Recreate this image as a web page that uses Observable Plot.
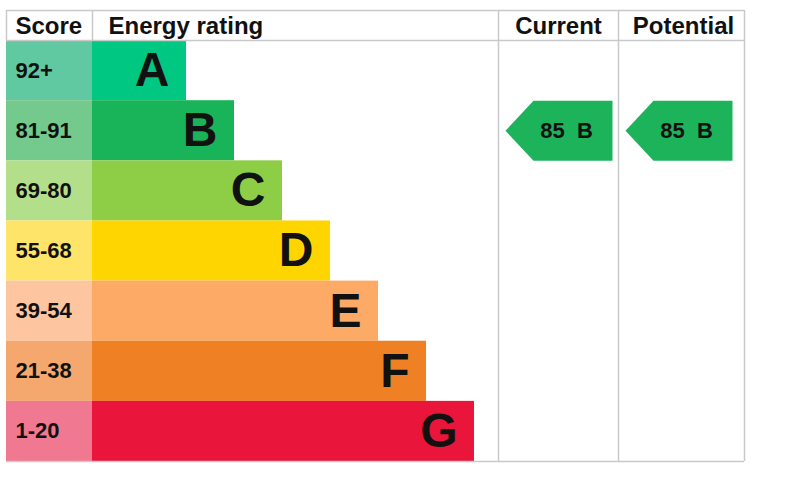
<!DOCTYPE html>
<html>
<head>
<meta charset="utf-8">
<script src="https://cdn.jsdelivr.net/npm/d3@7"></script>
<script src="https://cdn.jsdelivr.net/npm/@observablehq/plot@0.6"></script>
<style>
  html, body { margin: 0; padding: 0; background: #fff; }
  #chart { width: 800px; height: 486px; }
</style>
</head>
<body>
<div id="chart"></div>
<script>
// ---- data ----
const ratings = ["A", "B", "C", "D", "E", "F", "G"];
const scoreRanges = ["92+", "81-91", "69-80", "55-68", "39-54", "21-38", "1-20"];
const barLengths = [94, 142, 190, 238, 286, 334, 382];
const barColors = ["#00c781", "#19b459", "#8dce46", "#ffd500", "#fcaa65", "#ef8023", "#e9153b"];
const scoreColors = ["#60c9a1", "#74c98c", "#b4df8a", "#ffe46a", "#fdc6a0", "#f4a86e", "#f17891"];
const headers = ["Score", "Energy rating", "Current", "Potential"];
const currentScore = 85, currentRating = "B";
const potentialScore = 85, potentialRating = "B";

// ---- layout helpers ----
const tableLeft = 6, scoreRight = 92, curLeft = 498, potLeft = 618, tableRight = 744;
const arrowW = 107, notch = 28, arrowGap = 7;
const font = "'Liberation Sans', Arial, Helvetica, sans-serif";

const rows = ratings.map((r, i) => ({
  rating: r, i, range: scoreRanges[i], len: barLengths[i],
  bar: barColors[i], scoreFill: scoreColors[i]
}));

const headerLeft = [
  {text: headers[0], x: 15},
  {text: headers[1], x: 108}
];
const headerMid = [
  {text: headers[2], x: (curLeft + potLeft) / 2},
  {text: headers[3], x: (potLeft + tableRight) / 2 + 2}
];

const arrows = [
  {col: "current", left: curLeft, score: currentScore, rating: currentRating},
  {col: "potential", left: potLeft, score: potentialScore, rating: potentialRating}
].map(d => ({...d, r: ratings.indexOf(d.rating), tip: d.left + arrowGap}));

const arrowPts = arrows.flatMap(d => [
  {col: d.col, x: d.tip, y: d.r + 0.5},
  {col: d.col, x: d.tip + notch, y: d.r},
  {col: d.col, x: d.tip + arrowW, y: d.r},
  {col: d.col, x: d.tip + arrowW, y: d.r + 1},
  {col: d.col, x: d.tip + notch, y: d.r + 1},
  {col: d.col, x: d.tip, y: d.r + 0.5}
]);

const grid = "#c9c9c9";
const headerStyle = {y: -0.24, text: "text", fontSize: 24, fontWeight: "bold", fill: "#111", fontFamily: font};

const chart = Plot.plot({
  width: 800,
  height: 486,
  margin: 0,
  x: {domain: [0, 800], range: [0, 800], axis: null},
  y: {domain: [-0.5, 7], range: [10, 461], axis: null},
  color: {type: "identity"},
  style: {fontFamily: font, background: "#fff"},
  marks: [
    // score column cells
    Plot.rect(rows, {x1: tableLeft, x2: scoreRight, y1: d => d.i, y2: d => d.i + 1, fill: "scoreFill"}),
    // rating bars
    Plot.rect(rows, {x1: scoreRight, x2: d => scoreRight + d.len, y1: d => d.i, y2: d => d.i + 1, fill: "bar"}),
    // grid lines
    Plot.ruleY([-0.5, 0, 7], {x1: tableLeft, x2: tableRight, stroke: grid, strokeWidth: 1.5}),
    Plot.ruleX([tableLeft, scoreRight], {y1: -0.5, y2: 0, stroke: grid, strokeWidth: 1.5}),
    Plot.ruleX([curLeft, potLeft, tableRight], {y1: -0.5, y2: 7, stroke: grid, strokeWidth: 1.5}),
    // header text
    Plot.text(headerLeft, {x: "x", textAnchor: "start", ...headerStyle}),
    Plot.text(headerMid, {x: "x", textAnchor: "middle", ...headerStyle}),
    // score range labels
    Plot.text(rows, {x: 15, y: d => d.i + 0.5, text: "range", textAnchor: "start",
      fontSize: 22, fontWeight: "bold", fill: "#111", fontFamily: font}),
    // rating letters
    Plot.text(rows, {x: d => scoreRight + d.len - 17, y: d => d.i + 0.5, text: "rating", textAnchor: "end",
      fontSize: 48, fontWeight: "bold", fill: "#111", fontFamily: font}),
    // arrows
    Plot.line(arrowPts, {x: "x", y: "y", z: "col", fill: "#1db35a", stroke: "none", curve: "linear"}),
    Plot.text(arrows, {x: d => d.left + 68, y: d => d.r + 0.5, text: d => `${d.score}\u00a0\u00a0${d.rating}`,
      fontSize: 22, fontWeight: "bold", fill: "#111", fontFamily: font})
  ]
});
document.getElementById("chart").appendChild(chart);
</script>
</body>
</html>
